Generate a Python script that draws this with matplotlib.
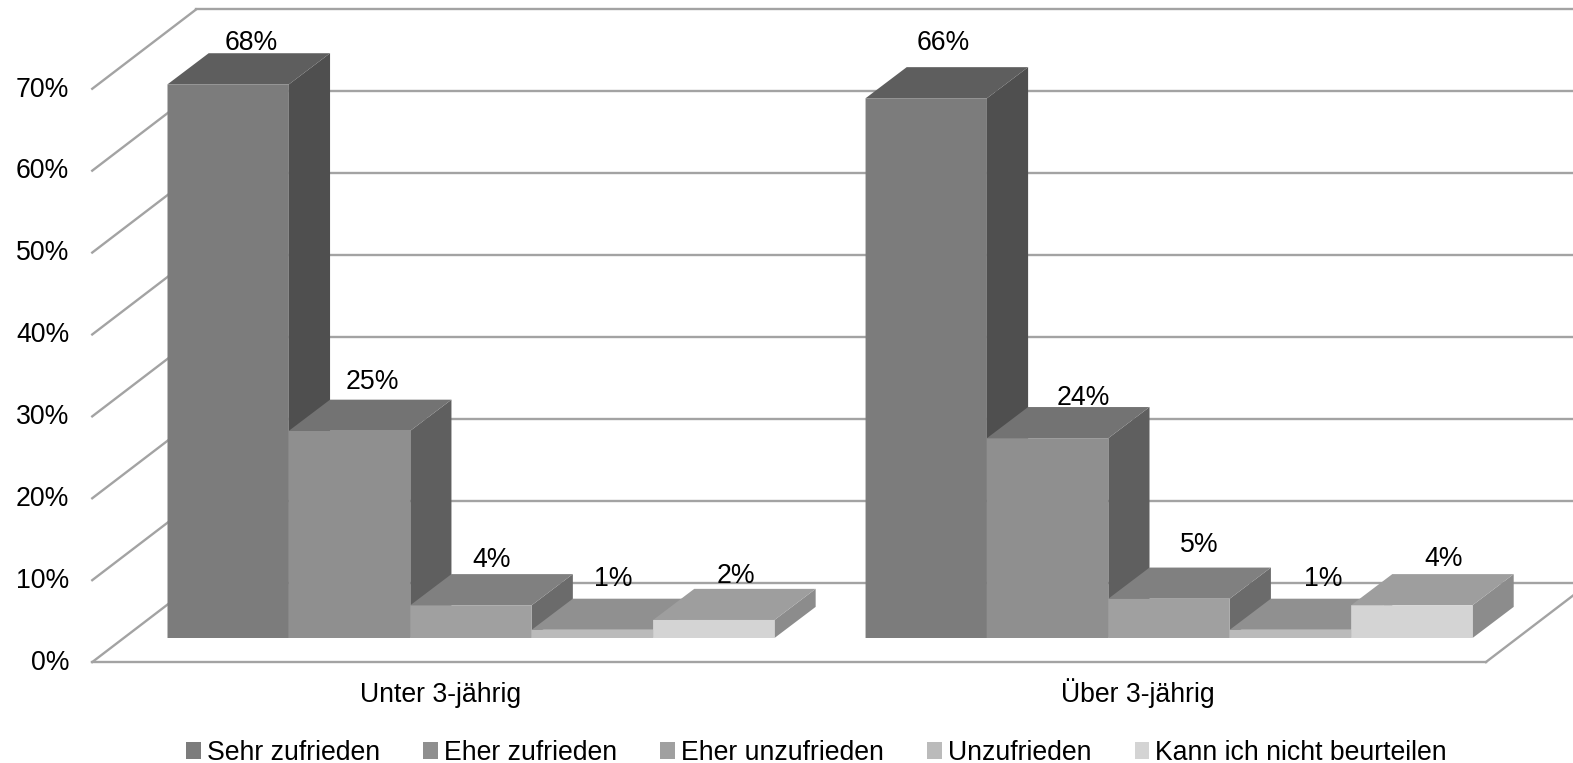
import matplotlib
matplotlib.use("Agg")
import matplotlib.pyplot as plt
from matplotlib.patches import Polygon, Patch

plt.rcParams['font.family'] = ['Liberation Sans', 'DejaVu Sans']

categories = ["Unter 3-jährig", "Über 3-jährig"]
series = ["Sehr zufrieden", "Eher zufrieden", "Eher unzufrieden", "Unzufrieden", "Kann ich nicht beurteilen"]
under3 = [67.6, 25.3, 4, 1, 2.2]
over3 = [65.9, 24.4, 4.8, 1, 4]
yticks = [0, 10, 20, 30, 40, 50, 60, 70]

front_colors = ["#7c7c7c", "#8f8f8f", "#a0a0a0", "#bbbbbb", "#d4d4d4"]
top_colors = ["#5e5e5e", "#737373", "#808080", "#909090", "#9e9e9e"]
side_colors = ["#4f4f4f", "#5f5f5f", "#6b6b6b", "#787878", "#8c8c8c"]
grid_color = "#a3a3a3"
text_color = "#000000"

# label offsets in pixels relative to the centre of the bar top
label_off = [[[2, 10], [2, 18], [0, 14], [0, 20], [2, 13]],
             [[-4, 24], [15, 9], [10, 23], [12, 20], [11, 15]]]

W, H = 1573, 763
PX_X = 121.4        # pixels per bar width
PX_Y = 8.19         # pixels per percent
X0, Y0 = 167.5, 638.0
FS = 19.2
fig = plt.figure(figsize=(W / 100, H / 100), dpi=100)
ax = fig.add_axes([0, 0, 1, 1])
ax.set_xlim(-X0 / PX_X, (W - X0) / PX_X)
ax.set_ylim((Y0 - H) / PX_Y, Y0 / PX_Y)
ax.axis("off")

# depth geometry in data units
group_gap = 5.75
floor_span = 5.74
bar_dx, bar_dy = 0.339, 3.8
floor_x, floor_y = -0.62, -2.94
wall_x, wall_y = 0.235, 6.74
x_right = floor_x + 2 * floor_span

lw = 1.7
for v in yticks:
    ax.plot([floor_x, wall_x], [v + floor_y, v + wall_y], color=grid_color, lw=lw, zorder=1)
    ax.plot([wall_x, ax.get_xlim()[1]], [v + wall_y, v + wall_y], color=grid_color, lw=lw, zorder=1)
    ax.text(floor_x - 0.19, v + floor_y - 0.1, f"{v}%", ha="right", va="center", fontsize=FS, color=text_color)
ax.plot([floor_x, x_right], [floor_y, floor_y], color=grid_color, lw=lw, zorder=1)
ax.plot([x_right, x_right + wall_x - floor_x], [floor_y, wall_y], color=grid_color, lw=lw, zorder=1)

z = 2
for g, vals in enumerate([under3, over3]):
    for i, v in enumerate(vals):
        x = g * group_gap + i
        ax.add_patch(Polygon([(x + 1, 0), (x + 1 + bar_dx, bar_dy), (x + 1 + bar_dx, v + bar_dy), (x + 1, v)],
                             closed=True, fc=side_colors[i], ec="none", zorder=z, snap=False))
        ax.add_patch(Polygon([(x, v), (x + bar_dx, v + bar_dy), (x + 1 + bar_dx, v + bar_dy), (x + 1, v)],
                             closed=True, fc=top_colors[i], ec="none", zorder=z, snap=False))
        ax.add_patch(Polygon([(x, 0), (x + 1, 0), (x + 1, v), (x, v)],
                             closed=True, fc=front_colors[i], ec="none", zorder=z, snap=False))
        z += 1
        dx, dy = label_off[g][i]
        ax.annotate(f"{round(v)}%", (x + 0.5 + bar_dx / 2, v + bar_dy), xytext=(dx * 0.72, dy * 0.72),
                    textcoords="offset points", ha="center", va="center", fontsize=FS,
                    color=text_color, zorder=50)

for g, c in enumerate(categories):
    ax.text(floor_x + (g + 0.5) * floor_span, floor_y - 4.85, c, ha="center", va="baseline",
            fontsize=FS, color=text_color)

handles = [Patch(fc=c, ec="none", label=s) for c, s in zip(front_colors, series)]
fig.legend(handles=handles, loc="center", bbox_to_anchor=(0.519, 1 - 753 / H), ncol=5, frameon=False,
           fontsize=FS, handlelength=0.55, handleheight=0.6, handletextpad=0.22,
           columnspacing=1.63, labelcolor=text_color)

fig.savefig("out.png", dpi=100)
